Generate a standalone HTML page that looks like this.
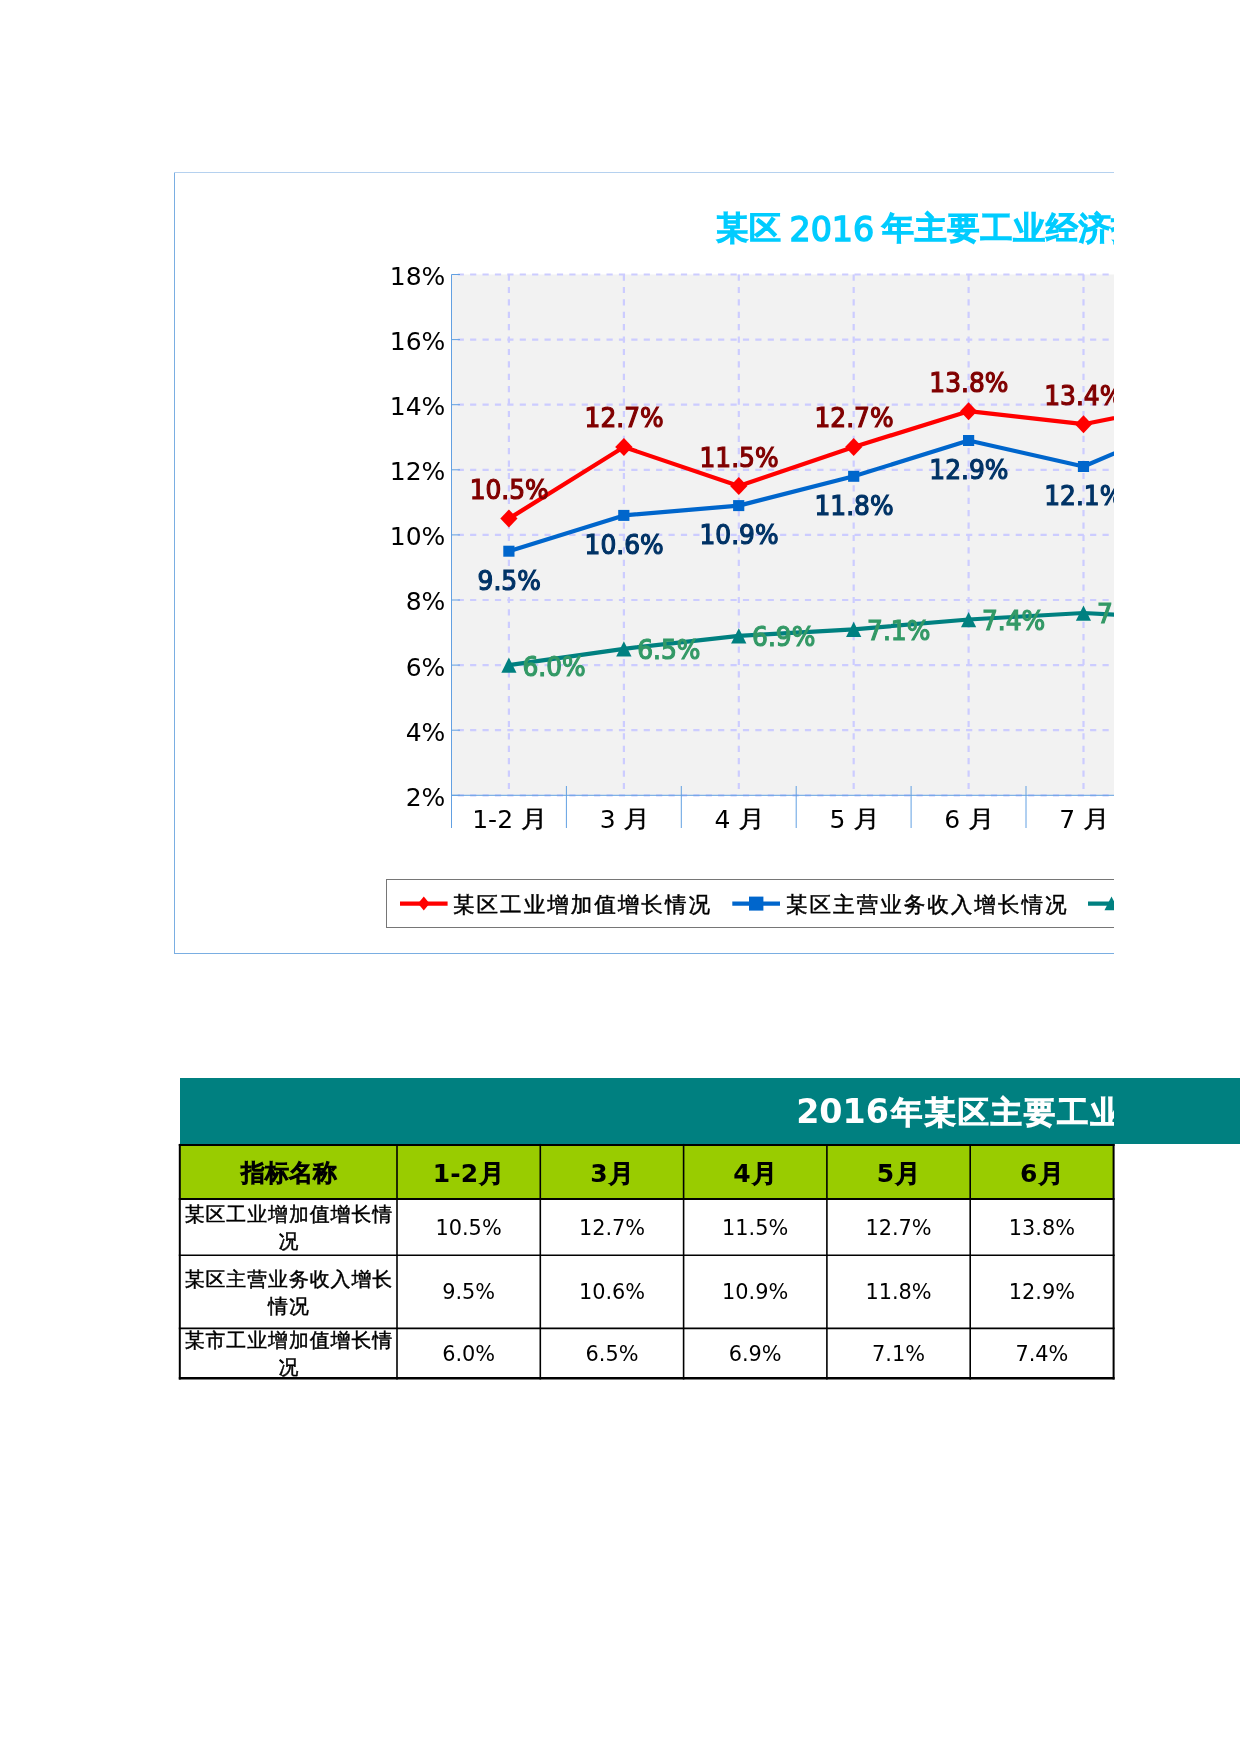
<!DOCTYPE html>
<html><head><meta charset="utf-8"><title>某区 2016 年主要工业经济指标</title>
<style>
html,body{margin:0;padding:0;background:#fff;}
body{width:1240px;height:1754px;position:relative;overflow:hidden;}
svg{position:absolute;left:0;top:0;overflow:hidden;will-change:transform;}
text{font-family:'DejaVu Sans','WenQuanYi Zen Hei',sans-serif;}
.tcj{font-size:32px;letter-spacing:0.8px;fill:#00ccff;stroke:#00ccff;stroke-width:1.9px;}
.tla{font-size:33.3px;fill:#00ccff;stroke:#00ccff;stroke-width:1.4px;}
.grid{stroke:#ccccff;stroke-width:2.2;stroke-dasharray:6.2 6.2;}
.hg{stroke-dashoffset:6.2;}
.ax{stroke:#62a0e2;stroke-width:1;}
.yl{font-size:25px;text-anchor:end;fill:#000;}
.xl{font-size:25px;fill:#000;}
.dl{font-size:25.8px;stroke-width:1.2px;}
.lg{font-size:21.6px;letter-spacing:1.95px;fill:#000;}
.cj{stroke:#000;stroke-width:0.45px;}
.tbar{position:absolute;left:180px;top:1078px;width:1060px;height:66px;background:#008080;}
.ttl2{font-size:33.3px;font-weight:bold;fill:#fff;}
.ttc{font-size:31.2px;letter-spacing:2px;fill:#fff;stroke:#fff;stroke-width:1.9px;}
.tsvg text{text-anchor:middle;}
.tsvg .ttl2,.tsvg .ttc{text-anchor:start;}
.th{font-size:25px;fill:#000;stroke:#000;stroke-width:1.5px;}
.th .lat{font-weight:bold;stroke:none;}
.th0{font-size:24px;}
.td{font-size:20.83px;fill:#000;}
.td.cj{font-size:19.9px;letter-spacing:0.95px;}
</style></head><body>
<svg class="chart" width="1114" height="1000" viewBox="0 0 1114 1000">
<line x1="174.5" y1="172" x2="174.5" y2="954" stroke="#7aaee2" stroke-width="1"/>
<line x1="174" y1="172.5" x2="1114" y2="172.5" stroke="#b5d1ef" stroke-width="1"/>
<line x1="174" y1="953.5" x2="1114" y2="953.5" stroke="#7aaee2" stroke-width="1"/>
<text x="716.3" y="239" class="tcj">某区</text>
<text x="789.5" y="241" class="tla">2016</text>
<text x="882" y="239" class="tcj">年主要工业经济指标增长情况</text>
<rect x="451.5" y="274.5" width="662.5" height="520.8" fill="#f2f2f2"/>
<line x1="508.9" y1="274.5" x2="508.9" y2="795.3" class="grid"/>
<line x1="623.9" y1="274.5" x2="623.9" y2="795.3" class="grid"/>
<line x1="738.8" y1="274.5" x2="738.8" y2="795.3" class="grid"/>
<line x1="853.7" y1="274.5" x2="853.7" y2="795.3" class="grid"/>
<line x1="968.6" y1="274.5" x2="968.6" y2="795.3" class="grid"/>
<line x1="1083.5" y1="274.5" x2="1083.5" y2="795.3" class="grid"/>
<line x1="1198.3" y1="274.5" x2="1198.3" y2="795.3" class="grid"/>
<line x1="451.5" y1="274.5" x2="1114" y2="274.5" class="grid hg"/>
<line x1="451.5" y1="339.6" x2="1114" y2="339.6" class="grid hg"/>
<line x1="451.5" y1="404.7" x2="1114" y2="404.7" class="grid hg"/>
<line x1="451.5" y1="469.8" x2="1114" y2="469.8" class="grid hg"/>
<line x1="451.5" y1="534.9" x2="1114" y2="534.9" class="grid hg"/>
<line x1="451.5" y1="600.0" x2="1114" y2="600.0" class="grid hg"/>
<line x1="451.5" y1="665.1" x2="1114" y2="665.1" class="grid hg"/>
<line x1="451.5" y1="730.2" x2="1114" y2="730.2" class="grid hg"/>
<line x1="451.5" y1="795.3" x2="1114" y2="795.3" class="grid hg"/>
<line x1="451.5" y1="274.5" x2="451.5" y2="828" class="ax"/>
<line x1="451.5" y1="795.3" x2="1114" y2="795.3" class="ax"/>
<line x1="451.5" y1="274.5" x2="460" y2="274.5" class="ax"/>
<line x1="451.5" y1="339.6" x2="460" y2="339.6" class="ax"/>
<line x1="451.5" y1="404.7" x2="460" y2="404.7" class="ax"/>
<line x1="451.5" y1="469.8" x2="460" y2="469.8" class="ax"/>
<line x1="451.5" y1="534.9" x2="460" y2="534.9" class="ax"/>
<line x1="451.5" y1="600.0" x2="460" y2="600.0" class="ax"/>
<line x1="451.5" y1="665.1" x2="460" y2="665.1" class="ax"/>
<line x1="451.5" y1="730.2" x2="460" y2="730.2" class="ax"/>
<line x1="451.5" y1="795.3" x2="460" y2="795.3" class="ax"/>
<line x1="566.4" y1="786" x2="566.4" y2="828" class="ax"/>
<line x1="681.3" y1="786" x2="681.3" y2="828" class="ax"/>
<line x1="796.2" y1="786" x2="796.2" y2="828" class="ax"/>
<line x1="911.1" y1="786" x2="911.1" y2="828" class="ax"/>
<line x1="1026.0" y1="786" x2="1026.0" y2="828" class="ax"/>
<line x1="1140.9" y1="786" x2="1140.9" y2="828" class="ax"/>
<line x1="1255.8" y1="786" x2="1255.8" y2="828" class="ax"/>
<text x="445.4" y="284.9" class="yl">18%</text>
<text x="445.4" y="350.0" class="yl">16%</text>
<text x="445.4" y="415.1" class="yl">14%</text>
<text x="445.4" y="480.2" class="yl">12%</text>
<text x="445.4" y="545.3" class="yl">10%</text>
<text x="445.4" y="610.4" class="yl">8%</text>
<text x="445.4" y="675.5" class="yl">6%</text>
<text x="445.4" y="740.6" class="yl">4%</text>
<text x="445.4" y="805.7" class="yl">2%</text>
<text x="472.21" y="827.6" class="xl">1-2</text>
<text transform="translate(520.79,826.7) scale(1.07,0.96)" class="xl cj">月</text>
<text x="599.67" y="827.6" class="xl">3</text>
<text transform="translate(623.33,826.7) scale(1.07,0.96)" class="xl cj">月</text>
<text x="714.57" y="827.6" class="xl">4</text>
<text transform="translate(738.23,826.7) scale(1.07,0.96)" class="xl cj">月</text>
<text x="829.47" y="827.6" class="xl">5</text>
<text transform="translate(853.13,826.7) scale(1.07,0.96)" class="xl cj">月</text>
<text x="944.37" y="827.6" class="xl">6</text>
<text transform="translate(968.03,826.7) scale(1.07,0.96)" class="xl cj">月</text>
<text x="1059.27" y="827.6" class="xl">7</text>
<text transform="translate(1082.93,826.7) scale(1.07,0.96)" class="xl cj">月</text>
<text x="1174.17" y="827.6" class="xl">8</text>
<text transform="translate(1197.83,826.7) scale(1.07,0.96)" class="xl cj">月</text>
<polyline points="508.9,665.1 623.9,648.8 738.8,635.8 853.7,629.3 968.6,619.5 1083.5,613.0 1198.3,619.5" fill="none" stroke="#008080" stroke-width="4.2" stroke-linejoin="round"/>
<polyline points="508.9,551.2 623.9,515.4 738.8,505.6 853.7,476.3 968.6,440.5 1083.5,466.5 1198.3,417.7" fill="none" stroke="#0066cc" stroke-width="4.2" stroke-linejoin="round"/>
<polyline points="508.9,518.6 623.9,447.0 738.8,486.1 853.7,447.0 968.6,411.2 1083.5,424.2 1198.3,401.4" fill="none" stroke="#ff0000" stroke-width="4.2" stroke-linejoin="round"/>
<polygon points="508.9,509.6 517.5,518.6 508.9,527.6 500.3,518.6" fill="#ff0000"/>
<polygon points="623.9,438.0 632.5,447.0 623.9,456.0 615.2,447.0" fill="#ff0000"/>
<polygon points="738.8,477.1 747.4,486.1 738.8,495.1 730.1,486.1" fill="#ff0000"/>
<polygon points="853.7,438.0 862.3,447.0 853.7,456.0 845.1,447.0" fill="#ff0000"/>
<polygon points="968.6,402.2 977.2,411.2 968.6,420.2 960.0,411.2" fill="#ff0000"/>
<polygon points="1083.5,415.2 1092.0,424.2 1083.5,433.2 1074.9,424.2" fill="#ff0000"/>
<polygon points="1198.3,392.4 1206.9,401.4 1198.3,410.4 1189.8,401.4" fill="#ff0000"/>
<rect x="503.3" y="545.7" width="11.2" height="11" fill="#0066cc"/>
<rect x="618.2" y="509.9" width="11.2" height="11" fill="#0066cc"/>
<rect x="733.1" y="500.1" width="11.2" height="11" fill="#0066cc"/>
<rect x="848.1" y="470.8" width="11.2" height="11" fill="#0066cc"/>
<rect x="963.0" y="435.0" width="11.2" height="11" fill="#0066cc"/>
<rect x="1077.9" y="461.0" width="11.2" height="11" fill="#0066cc"/>
<rect x="1192.8" y="412.2" width="11.2" height="11" fill="#0066cc"/>
<polygon points="508.9,657.5 516.5,672.8 501.3,672.8" fill="#008080"/>
<polygon points="623.9,641.2 631.5,656.5 616.2,656.5" fill="#008080"/>
<polygon points="738.8,628.2 746.4,643.5 731.1,643.5" fill="#008080"/>
<polygon points="853.7,621.7 861.3,637.0 846.1,637.0" fill="#008080"/>
<polygon points="968.6,611.9 976.2,627.2 961.0,627.2" fill="#008080"/>
<polygon points="1083.5,605.4 1091.0,620.7 1075.9,620.7" fill="#008080"/>
<polygon points="1198.3,611.9 1205.9,627.2 1190.8,627.2" fill="#008080"/>
<text transform="translate(509.2,499.0) scale(0.965,1)" class="dl" fill="#800000" stroke="#800000" text-anchor="middle">10.5%</text>
<text transform="translate(624.1,427.4) scale(0.965,1)" class="dl" fill="#800000" stroke="#800000" text-anchor="middle">12.7%</text>
<text transform="translate(739.0,466.5) scale(0.965,1)" class="dl" fill="#800000" stroke="#800000" text-anchor="middle">11.5%</text>
<text transform="translate(854.0,427.4) scale(0.965,1)" class="dl" fill="#800000" stroke="#800000" text-anchor="middle">12.7%</text>
<text transform="translate(968.9,391.6) scale(0.965,1)" class="dl" fill="#800000" stroke="#800000" text-anchor="middle">13.8%</text>
<text transform="translate(1083.8,404.6) scale(0.965,1)" class="dl" fill="#800000" stroke="#800000" text-anchor="middle">13.4%</text>
<text transform="translate(1198.6,381.8) scale(0.965,1)" class="dl" fill="#800000" stroke="#800000" text-anchor="middle">14.1%</text>
<text transform="translate(509.2,590.0) scale(0.965,1)" class="dl" fill="#003366" stroke="#003366" text-anchor="middle">9.5%</text>
<text transform="translate(624.1,554.2) scale(0.965,1)" class="dl" fill="#003366" stroke="#003366" text-anchor="middle">10.6%</text>
<text transform="translate(739.0,544.4) scale(0.965,1)" class="dl" fill="#003366" stroke="#003366" text-anchor="middle">10.9%</text>
<text transform="translate(854.0,515.1) scale(0.965,1)" class="dl" fill="#003366" stroke="#003366" text-anchor="middle">11.8%</text>
<text transform="translate(968.9,479.3) scale(0.965,1)" class="dl" fill="#003366" stroke="#003366" text-anchor="middle">12.9%</text>
<text transform="translate(1083.8,505.3) scale(0.965,1)" class="dl" fill="#003366" stroke="#003366" text-anchor="middle">12.1%</text>
<text transform="translate(1198.6,456.5) scale(0.965,1)" class="dl" fill="#003366" stroke="#003366" text-anchor="middle">13.6%</text>
<text transform="translate(522.4,675.5) scale(0.965,1)" class="dl" fill="#339966" stroke="#339966" text-anchor="start">6.0%</text>
<text transform="translate(637.2,659.2) scale(0.965,1)" class="dl" fill="#339966" stroke="#339966" text-anchor="start">6.5%</text>
<text transform="translate(752.1,646.2) scale(0.965,1)" class="dl" fill="#339966" stroke="#339966" text-anchor="start">6.9%</text>
<text transform="translate(867.1,639.7) scale(0.965,1)" class="dl" fill="#339966" stroke="#339966" text-anchor="start">7.1%</text>
<text transform="translate(982.0,629.9) scale(0.965,1)" class="dl" fill="#339966" stroke="#339966" text-anchor="start">7.4%</text>
<text transform="translate(1096.9,623.4) scale(0.965,1)" class="dl" fill="#339966" stroke="#339966" text-anchor="start">7.6%</text>
<text transform="translate(1211.8,629.9) scale(0.965,1)" class="dl" fill="#339966" stroke="#339966" text-anchor="start">7.4%</text>
<rect x="386.5" y="879.5" width="1114" height="48" fill="#fff" stroke="#767676" stroke-width="1"/>
<line x1="400" y1="903.6" x2="447.6" y2="903.6" stroke="#ff0000" stroke-width="4.4"/>
<polygon points="423.8,896.6 429.6,903.6 423.8,910.6 418,903.6" fill="#ff0000"/>
<text x="453" y="912.2" class="lg cj">某区工业增加值增长情况</text>
<line x1="732.3" y1="903.6" x2="780" y2="903.6" stroke="#0066cc" stroke-width="4.4"/>
<rect x="749" y="896.6" width="14.4" height="14" fill="#0066cc"/>
<text x="786" y="912.2" class="lg cj">某区主营业务收入增长情况</text>
<line x1="1088" y1="903.6" x2="1135" y2="903.6" stroke="#008080" stroke-width="4.4"/>
<polygon points="1111.5,896.6 1118.5,910.3000000000001 1104.5,910.3000000000001" fill="#008080"/>
</svg>
<div class="tbar"></div>
<svg class="tsvg" width="1240" height="1400">
<svg x="0" y="1070" width="1114" height="80" viewBox="0 1070 1114 80" overflow="hidden">
<text x="796.2" y="1123.4" class="ttl2">2016</text>
<text x="891.3" y="1122.5" class="ttc">年某区主要工业经济指标完成情况</text>
</svg>
<rect x="180" y="1145" width="934" height="54" fill="#99cc00"/>
<text x="289.0" y="1181.2" class="th th0">指标名称</text>
<text x="468.6" y="1182" class="th"><tspan class="lat">1-2</tspan><tspan dx="1.3">月</tspan></text>
<text x="612.0" y="1182" class="th"><tspan class="lat">3</tspan><tspan dx="1.3">月</tspan></text>
<text x="755.2" y="1182" class="th"><tspan class="lat">4</tspan><tspan dx="1.3">月</tspan></text>
<text x="898.5" y="1182" class="th"><tspan class="lat">5</tspan><tspan dx="1.3">月</tspan></text>
<text x="1041.9" y="1182" class="th"><tspan class="lat">6</tspan><tspan dx="1.3">月</tspan></text>
<text x="288.9" y="1221.1" class="td cj">某区工业增加值增长情</text>
<text x="288.9" y="1248.1" class="td cj">况</text>
<text x="468.6" y="1234.6" class="td">10.5%</text>
<text x="612.0" y="1234.6" class="td">12.7%</text>
<text x="755.2" y="1234.6" class="td">11.5%</text>
<text x="898.5" y="1234.6" class="td">12.7%</text>
<text x="1041.9" y="1234.6" class="td">13.8%</text>
<text x="288.9" y="1285.8" class="td cj">某区主营业务收入增长</text>
<text x="288.9" y="1312.8" class="td cj">情况</text>
<text x="468.6" y="1299.3" class="td">9.5%</text>
<text x="612.0" y="1299.3" class="td">10.6%</text>
<text x="755.2" y="1299.3" class="td">10.9%</text>
<text x="898.5" y="1299.3" class="td">11.8%</text>
<text x="1041.9" y="1299.3" class="td">12.9%</text>
<text x="288.9" y="1347.3" class="td cj">某市工业增加值增长情</text>
<text x="288.9" y="1374.3" class="td cj">况</text>
<text x="468.6" y="1360.8" class="td">6.0%</text>
<text x="612.0" y="1360.8" class="td">6.5%</text>
<text x="755.2" y="1360.8" class="td">6.9%</text>
<text x="898.5" y="1360.8" class="td">7.1%</text>
<text x="1041.9" y="1360.8" class="td">7.4%</text>
<line x1="179.8" y1="1143.9" x2="179.8" y2="1379.5" stroke="#000" stroke-width="2"/>
<line x1="397.0" y1="1143.9" x2="397.0" y2="1379.5" stroke="#000" stroke-width="1.6"/>
<line x1="540.3" y1="1143.9" x2="540.3" y2="1379.5" stroke="#000" stroke-width="1.6"/>
<line x1="683.6" y1="1143.9" x2="683.6" y2="1379.5" stroke="#000" stroke-width="1.6"/>
<line x1="826.9" y1="1143.9" x2="826.9" y2="1379.5" stroke="#000" stroke-width="1.6"/>
<line x1="970.2" y1="1143.9" x2="970.2" y2="1379.5" stroke="#000" stroke-width="1.6"/>
<line x1="1113.6" y1="1143.9" x2="1113.6" y2="1379.5" stroke="#000" stroke-width="2"/>
<line x1="178.8" y1="1144.9" x2="1114.6" y2="1144.9" stroke="#000" stroke-width="2"/>
<line x1="178.8" y1="1198.9" x2="1114.6" y2="1198.9" stroke="#000" stroke-width="2"/>
<line x1="178.8" y1="1255.2" x2="1114.6" y2="1255.2" stroke="#000" stroke-width="1.6"/>
<line x1="178.8" y1="1328.4" x2="1114.6" y2="1328.4" stroke="#000" stroke-width="1.6"/>
<line x1="178.8" y1="1378.3" x2="1114.6" y2="1378.3" stroke="#000" stroke-width="2.6"/>
</svg>
</body></html>
